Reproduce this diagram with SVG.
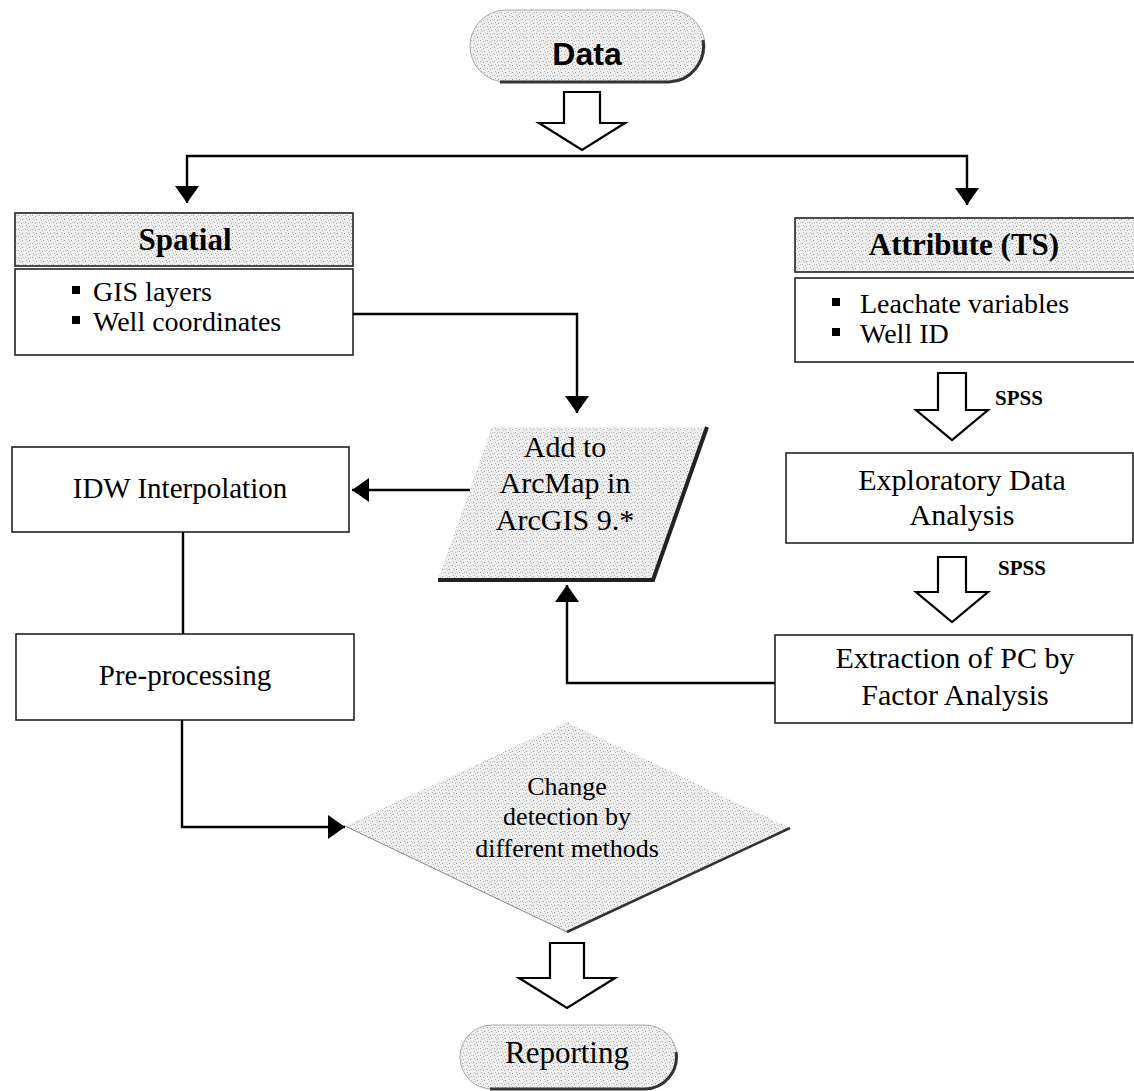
<svg xmlns="http://www.w3.org/2000/svg" width="1134" height="1091" viewBox="0 0 1134 1091">
<defs>
<pattern id="stip" width="7" height="7" patternUnits="userSpaceOnUse">
<rect width="7" height="7" fill="#efefef"/>
<rect x="1" y="2" width="1" height="1" fill="#9a9a9a"/>
<rect x="4" y="5" width="1" height="1" fill="#a8a8a8"/>
<rect x="5" y="1" width="1" height="1" fill="#b5b5b5"/>
<rect x="2" y="5" width="1" height="1" fill="#c4c4c4"/>
<rect x="6" y="3" width="1" height="1" fill="#bdbdbd"/>
<rect x="0" y="6" width="1" height="1" fill="#b0b0b0"/>
</pattern>
<marker id="ah" viewBox="0 0 17 24" refX="17" refY="12" markerWidth="17" markerHeight="24" markerUnits="userSpaceOnUse" orient="auto">
<path d="M0,0 L17,12 L0,24 Z" fill="#000"/>
</marker>
</defs>
<style>
.box{fill:#fff;stroke:#222;stroke-width:1.6}
.hdr{fill:url(#stip);stroke:#222;stroke-width:1.6}
.blk{fill:#fff;stroke:#000;stroke-width:2.2;stroke-linejoin:miter}
.con{fill:none;stroke:#000;stroke-width:2.4}
.t{font-family:"Liberation Serif","Times New Roman",serif;fill:#000;text-anchor:middle}
.tl{font-family:"Liberation Serif","Times New Roman",serif;fill:#000}
.b{font-weight:bold}
.shadow{fill:none;stroke:#333;stroke-width:3}
</style>
<rect width="1134" height="1091" fill="#fff"/>

<g id="data">
<rect x="470" y="10" width="235" height="72" rx="36" ry="36" fill="url(#stip)" stroke="#aaa" stroke-width="1"/>
<path d="M500,82 H669 A36,36 0 0 0 703,40" class="shadow" stroke-width="2.5"/>
<text x="587" y="65" text-anchor="middle" font-family="'Liberation Sans',Arial,sans-serif" font-weight="bold" font-size="32">Data</text>
</g>

<g id="arrow-top">
<polygon class="blk" points="564,92 600,92 600,123 625,123 582,150 539,123 564,123"/>
</g>

<g id="spatial">
<rect class="hdr" x="15" y="213" width="338" height="53"/>
<text class="t b" x="185" y="250" font-size="31">Spatial</text>
<rect class="box" x="15" y="269" width="338" height="86"/>
<rect x="72" y="286" width="8" height="8" fill="#000"/>
<text class="tl" x="93" y="301" font-size="28">GIS layers</text>
<rect x="72" y="316" width="8" height="8" fill="#000"/>
<text class="tl" x="93" y="331" font-size="28">Well coordinates</text>
</g>

<g id="attribute">
<rect class="hdr" x="795" y="218" width="345" height="54"/>
<text class="t b" x="964" y="255" font-size="31">Attribute (TS)</text>
<rect class="box" x="795" y="278" width="345" height="84"/>
<rect x="832" y="298" width="8" height="8" fill="#000"/>
<text class="tl" x="860" y="313" font-size="28">Leachate variables</text>
<rect x="832" y="328" width="8" height="8" fill="#000"/>
<text class="tl" x="860" y="343" font-size="28">Well ID</text>
</g>

<g id="spss1">
<polygon class="blk" points="938,373 966,373 966,410 988,410 952,440 916,410 938,410"/>
<text class="tl b" x="995" y="405" font-size="21">SPSS</text>
</g>

<g id="eda">
<rect class="box" x="786" y="453" width="347" height="90"/>
<text class="t" x="962" y="490" font-size="30">Exploratory Data</text>
<text class="t" x="962" y="525" font-size="30">Analysis</text>
</g>

<g id="spss2">
<polygon class="blk" points="938,557 966,557 966,592 988,592 952,622 916,592 938,592"/>
<text class="tl b" x="998" y="575" font-size="21">SPSS</text>
</g>

<g id="extraction">
<rect class="box" x="775" y="635" width="357" height="88"/>
<text class="t" x="955" y="668" font-size="30">Extraction of PC by</text>
<text class="t" x="955" y="705" font-size="30">Factor Analysis</text>
</g>

<g id="arcmap">
<polygon points="492,427 707,427 653,580 438,580" fill="url(#stip)"/>
<polyline points="707,427 653,580 438,580" fill="none" stroke="#222" stroke-width="4" stroke-linejoin="miter"/>
<text class="t" x="565" y="457" font-size="30">Add to</text>
<text class="t" x="565" y="493" font-size="30">ArcMap in</text>
<text class="t" x="565" y="530" font-size="30">ArcGIS 9.*</text>
</g>

<g id="idw">
<rect class="box" x="12" y="447" width="337" height="85"/>
<text class="t" x="180" y="498" font-size="29">IDW Interpolation</text>
</g>

<g id="preprocessing">
<rect class="box" x="16" y="634" width="338" height="86"/>
<text class="t" x="185" y="685" font-size="29">Pre-processing</text>
</g>

<g id="change">
<polygon points="567,722 790,828 567,932 345,826" fill="url(#stip)"/>
<line x1="345" y1="826" x2="567" y2="932" stroke="#888" stroke-width="1"/>
<line x1="790" y1="828" x2="567" y2="932" stroke="#333" stroke-width="2.5"/>
<text class="t" x="567" y="795" font-size="26">Change</text>
<text class="t" x="567" y="825" font-size="26">detection by</text>
<text class="t" x="567" y="857" font-size="26">different methods</text>
</g>

<g id="arrow-bottom">
<polygon class="blk" points="550,943 584,943 584,978 615,978 567,1008 519,978 550,978"/>
</g>

<g id="reporting">
<rect x="460" y="1025" width="217" height="64" rx="32" ry="32" fill="url(#stip)" stroke="#aaa" stroke-width="1"/>
<path d="M490,1089 H645 A32,32 0 0 0 676,1052" class="shadow" stroke-width="2"/>
<text class="t" x="567" y="1063" font-size="31">Reporting</text>
</g>

<g id="connectors">
<path class="con" d="M582,156 H187 V203" marker-end="url(#ah)"/>
<path class="con" d="M582,156 H967 V205" marker-end="url(#ah)"/>
<path class="con" d="M353,314 H577 V413" marker-end="url(#ah)"/>
<path class="con" d="M470,490 H352" stroke-width="1.6" marker-end="url(#ah)"/>
<path class="con" d="M183,532 V634" stroke-width="2"/>
<path class="con" d="M182,720 V827 H345" stroke-width="2" marker-end="url(#ah)"/>
<path class="con" d="M775,683 H567 V585" marker-end="url(#ah)"/>
</g>
</svg>
